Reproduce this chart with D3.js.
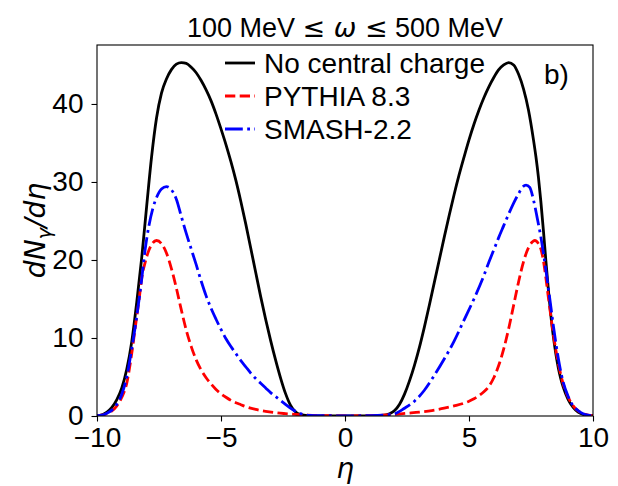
<!DOCTYPE html>
<html>
<head>
<meta charset="utf-8">
<script src="https://cdn.jsdelivr.net/npm/d3@7"></script>
<style>
  body { margin: 0; background: #fff; }
  svg { display: block; }
  text { font-family: "Liberation Sans", Arial, sans-serif; fill: #000; }
  .math { font-family: "DejaVu Sans", sans-serif; }
</style>
</head>
<body>
<svg id="chart" width="618" height="486"></svg>
<script>
// eta values and dN/deta
var noChargeEta = [-10, -9.8, -9.6, -9.4, -9.2, -9.0, -8.8, -8.6, -8.4, -8.2, -8.0, -7.8, -7.6, -7.4, -7.2, -7.0, -6.8, -6.6, -6.4, -6.2, -6.0, -5.8, -5.6, -5.4, -5.2, -5.0, -4.8, -4.6, -4.4, -4.2, -4.0, -3.8, -3.6, -3.4, -3.2, -3.0, -2.8, -2.6, -2.4, -2.2, -2.0, -1.8, -1.5, -1.0, 0,
  1.0, 1.5, 1.8, 2.0, 2.2, 2.4, 2.6, 2.8, 3.0, 3.2, 3.4, 3.6, 3.8, 4.0, 4.2, 4.4, 4.6, 4.8, 5.0, 5.2, 5.4, 5.6, 5.8, 6.0, 6.2, 6.4, 6.6, 6.8, 7.0, 7.2, 7.4, 7.6, 7.7, 7.8, 7.9, 8.0, 8.1, 8.2, 8.3, 8.4, 8.5, 8.6, 8.7, 8.8, 9.0, 9.2, 9.4, 9.6, 9.8, 10];
var noChargeVal = [0.05, 0.15, 0.5, 1.1, 2.1, 3.6, 6.0, 9.5, 14.5, 20.2, 26.8, 33.2, 38.2, 41.4, 43.2, 44.4, 45.1, 45.3, 45.2, 44.7, 44.0, 43.0, 41.8, 40.4, 38.7, 36.8, 34.8, 32.6, 30.2, 27.5, 24.6, 21.5, 18.4, 15.3, 12.4, 9.7, 7.2, 4.9, 2.9, 1.4, 0.55, 0.2, 0.06, 0.02, 0.0,
  0.02, 0.08, 0.3, 0.7, 1.5, 2.8, 4.5, 6.5, 8.8, 11.4, 14.2, 17.1, 20.0, 22.9, 25.7, 28.4, 30.9, 33.2, 35.4, 37.4, 39.2, 40.8, 42.2, 43.4, 44.4, 45.0, 45.3, 45.0, 43.8, 41.9, 39.2, 35.4, 33.2, 30.6, 27.4, 23.8, 19.9, 16.2, 12.9, 10.2, 8.0, 6.2, 4.8, 3.7, 2.1, 1.1, 0.5, 0.2, 0.08, 0.03];

var pythiaEta = [-10, -9.8, -9.6, -9.4, -9.2, -9.0, -8.8, -8.6, -8.4, -8.3, -8.2, -8.05, -7.9, -7.75, -7.6, -7.4, -7.2, -7.0, -6.8, -6.6, -6.4, -6.2, -6.0, -5.8, -5.6, -5.4, -5.2, -5.0, -4.8, -4.6, -4.4, -4.2, -4.0, -3.6, -3.2, -2.8, -2.4, -2.0, -1.5, -1.0, -0.5, 0,
  1.0, 1.5, 2.0, 2.5, 3.0, 3.5, 4.0, 4.4, 4.8, 5.0, 5.2, 5.4, 5.6, 5.8, 6.0, 6.2, 6.4, 6.6, 6.8, 7.0, 7.2, 7.4, 7.55, 7.65, 7.8, 7.9, 8.0, 8.1, 8.2, 8.3, 8.4, 8.5, 8.6, 8.7, 8.8, 9.0, 9.2, 9.4, 9.6, 9.8, 10];
var pythiaVal = [0.03, 0.1, 0.3, 0.65, 1.3, 2.4, 4.2, 8.0, 12.7, 15.0, 17.6, 19.8, 21.3, 22.2, 22.5, 22.1, 20.9, 18.9, 16.4, 13.6, 11.0, 8.9, 7.2, 5.9, 4.9, 4.1, 3.4, 2.85, 2.4, 2.0, 1.7, 1.45, 1.2, 0.85, 0.6, 0.42, 0.3, 0.2, 0.1, 0.05, 0.03, 0.02,
  0.05, 0.1, 0.2, 0.35, 0.5, 0.7, 1.0, 1.3, 1.65, 1.9, 2.2, 2.6, 3.1, 3.8, 4.9, 6.5, 8.6, 11.2, 14.2, 17.2, 19.8, 21.6, 22.3, 22.5, 22.1, 21.4, 19.9, 17.7, 15.2, 12.8, 10.5, 8.5, 6.8, 5.3, 4.1, 2.4, 1.3, 0.65, 0.3, 0.1, 0.03];

var smashEta = [-10, -9.8, -9.6, -9.4, -9.2, -9.0, -8.8, -8.6, -8.4, -8.2, -8.06, -7.9, -7.75, -7.6, -7.4, -7.2, -7.0, -6.8, -6.6, -6.4, -6.2, -6.0, -5.8, -5.6, -5.4, -5.2, -5.0, -4.8, -4.6, -4.4, -4.2, -4.0, -3.8, -3.6, -3.4, -3.2, -3.0, -2.8, -2.6, -2.4, -2.2, -2.0, -1.8, -1.6, -1.4, -1.0, -0.5, 0,
  1.0, 1.5, 2.0, 2.4, 2.8, 3.2, 3.6, 4.0, 4.4, 4.8, 5.2, 5.6, 5.8, 6.0, 6.2, 6.4, 6.6, 6.8, 7.0, 7.15, 7.3, 7.45, 7.6, 7.75, 7.9, 8.0, 8.1, 8.2, 8.3, 8.4, 8.5, 8.6, 8.7, 8.8, 9.0, 9.2, 9.4, 9.6, 9.8, 10];
var smashVal = [0.03, 0.1, 0.35, 0.75, 1.5, 2.8, 5.0, 8.6, 12.7, 17.5, 21.3, 24.5, 26.6, 28.0, 29.1, 29.4, 29.0, 27.8, 25.6, 23.4, 21.4, 19.4, 17.3, 15.4, 13.8, 12.4, 11.1, 9.9, 8.9, 8.0, 7.1, 6.3, 5.5, 4.8, 4.2, 3.6, 3.0, 2.5, 2.0, 1.5, 1.0, 0.6, 0.3, 0.15, 0.08, 0.04, 0.03, 0.02,
  0.05, 0.1, 0.3, 1.0, 1.9, 3.3, 5.2, 7.3, 9.6, 12.3, 15.0, 18.0, 19.7, 21.3, 22.9, 24.4, 25.9, 27.3, 28.5, 29.3, 29.6, 29.3, 27.7, 25.4, 22.9, 20.9, 18.7, 16.4, 14.0, 11.6, 9.4, 7.4, 5.7, 4.3, 2.5, 1.3, 0.7, 0.3, 0.1, 0.03];

var xTicks = [-10, -5, 0, 5, 10];
var yTicks = [0, 10, 20, 30, 40];
var legendNames = ["No central charge", "PYTHIA 8.3", "SMASH-2.2"];

var series = [
  { name: legendNames[0], eta: noChargeEta, val: noChargeVal, color: "#000000", dash: null },
  { name: legendNames[1], eta: pythiaEta, val: pythiaVal, color: "#ff0000", dash: "10.3,4.4" },
  { name: legendNames[2], eta: smashEta, val: smashVal, color: "#0000ff", dash: "17.8,4.4,2.8,4.4" }
];

var svg = d3.select("#chart");
var margin = { left: 97, right: 25, top: 45, bottom: 70 };
var W = 618, H = 486;
var fs = 28;

var x = d3.scaleLinear().domain([-10, 10]).range([margin.left, W - margin.right]);
var y = d3.scaleLinear().domain([0, 47.56]).range([H - margin.bottom, margin.top]);

svg.append("clipPath").attr("id", "plotclip")
  .append("rect")
  .attr("x", margin.left).attr("y", margin.top)
  .attr("width", W - margin.left - margin.right)
  .attr("height", H - margin.top - margin.bottom);

var line = d3.line()
  .x(function(d) { return x(d[0]); })
  .y(function(d) { return y(d[1]); })
  .curve(d3.curveMonotoneX);

var plot = svg.append("g").attr("clip-path", "url(#plotclip)");

series.forEach(function(s) {
  var pts = s.eta.map(function(e, i) { return [e, s.val[i]]; });
  plot.append("path")
    .datum(pts)
    .attr("d", line)
    .attr("fill", "none")
    .attr("stroke", s.color)
    .attr("stroke-width", 2.8)
    .attr("stroke-dasharray", s.dash);
});

// axes
var xAxis = svg.append("g")
  .attr("transform", "translate(0," + (H - margin.bottom) + ")")
  .call(d3.axisBottom(x).tickValues(xTicks).tickSize(5.5).tickPadding(6)
    .tickFormat(function(d) { return d < 0 ? "\u2212" + Math.abs(d) : d; }));

var yAxis = svg.append("g")
  .attr("transform", "translate(" + margin.left + ",0)")
  .call(d3.axisLeft(y).tickValues(yTicks).tickSize(5.5).tickPadding(8));

[xAxis, yAxis].forEach(function(a) {
  a.select(".domain").remove();
  a.selectAll(".tick line").attr("stroke", "#000").attr("stroke-width", 1.1);
  a.selectAll(".tick text")
    .attr("font-family", "Liberation Sans, Arial, sans-serif")
    .attr("font-size", fs)
    .attr("fill", "#000");
});

// frame
svg.append("rect")
  .attr("x", margin.left).attr("y", margin.top)
  .attr("width", W - margin.left - margin.right)
  .attr("height", H - margin.top - margin.bottom)
  .attr("fill", "none")
  .attr("stroke", "#000")
  .attr("stroke-width", 1.1);

// title
var title = svg.append("text")
  .attr("x", (margin.left + W - margin.right) / 2)
  .attr("y", 37)
  .attr("text-anchor", "middle")
  .attr("font-size", fs - 1);
title.append("tspan").text("100 MeV ");
title.append("tspan").attr("class", "math").text("\u2264 ");
title.append("tspan").attr("class", "math").attr("font-style", "italic").text("\u03c9");
title.append("tspan").attr("class", "math").text(" \u2264");
title.append("tspan").text(" 500 MeV");

// x label
svg.append("text")
  .attr("class", "math")
  .attr("x", (margin.left + W - margin.right) / 2)
  .attr("y", 478)
  .attr("text-anchor", "middle")
  .attr("font-style", "italic")
  .attr("font-size", fs)
  .text("\u03b7");

// y label
var ylab = svg.append("text")
  .attr("class", "math")
  .attr("transform", "translate(45," + ((margin.top + H - margin.bottom) / 2) + ") rotate(-90)")
  .attr("text-anchor", "middle")
  .attr("font-style", "italic")
  .attr("font-size", fs);
ylab.append("tspan").text("dN");
ylab.append("tspan").attr("font-size", fs * 0.7).attr("dy", 6).text("\u03b3");
ylab.append("tspan").attr("dy", -6).text("/d\u03b7");

// panel tag
svg.append("text")
  .attr("x", 544).attr("y", 84)
  .attr("font-size", fs)
  .text("b)");

// legend
var leg = svg.append("g");
series.forEach(function(s, i) {
  var yy = 63 + i * 33;
  leg.append("line")
    .attr("x1", 225).attr("x2", 255)
    .attr("y1", yy).attr("y2", yy)
    .attr("stroke", s.color)
    .attr("stroke-width", 2.8)
    .attr("stroke-dasharray", s.dash);
  leg.append("text")
    .attr("x", 264).attr("y", yy + 10)
    .attr("font-size", fs)
    .text(s.name);
});
</script>
</body>
</html>
